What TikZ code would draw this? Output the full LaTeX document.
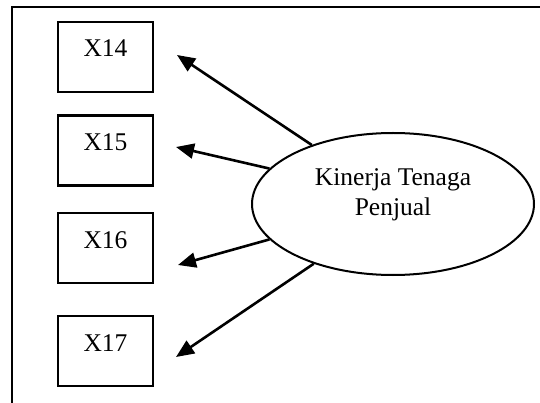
\documentclass[tikz,border=0pt]{standalone}
\usepackage{fontspec}
\setmainfont{Liberation Serif}
\usetikzlibrary{shapes.geometric,arrows.meta,calc}

\tikzset{
  indicator/.style={draw, line width=2.2pt, rectangle, inner xsep=0pt, inner ysep=0pt,
    minimum width=95pt, text height=35pt, text depth=35pt,
    font=\fontsize{25.5}{30}\selectfont},
  construct/.style={draw, line width=2pt, ellipse, inner sep=0pt,
    minimum width=282pt, minimum height=142pt},
  constructlabel/.style={align=center, inner sep=0pt,
    font=\fontsize{25.5}{30}\selectfont},
  loading/.style={line width=2.6pt, -{Triangle[length=18pt,width=15pt]}},
  frame/.style={line width=2.4pt}
}

\begin{document}
\begin{tikzpicture}[x=1pt, y=-1pt]
  \useasboundingbox (0,0) rectangle (540,403);

  % open frame: top and left edges
  \coordinate (frameTR) at (540,7);
  \coordinate (frameTL) at (12,7);
  \coordinate (frameBL) at (12,403);
  \draw[frame] (frameTR) -- (frameTL) -- (frameBL);

  % indicator boxes
  \node[indicator] (x14) at (105.5,57)  {X14};
  \node[indicator] (x15) at (105.5,150.5) {X15};
  \node[indicator] (x16) at (105.5,248) {X16};
  \node[indicator] (x17) at (105.5,351) {X17};

  % latent construct
  \node[construct] (kt) at (393,204) {};
  \node[constructlabel] (ktlabel) at (393,195) {Kinerja Tenaga\\Penjual};

  % arrow tips beside the boxes
  \coordinate (t14) at (177,55);
  \coordinate (t15) at (176,147);
  \coordinate (t16) at (178,265);
  \coordinate (t17) at (176,357);

  % loadings
  \draw[loading] (kt.144.5) -- (t14);
  \draw[loading] (kt.164.5) -- (t15);
  \draw[loading] (kt.196.3) -- (t16);
  \draw[loading] (kt.217.8) -- (t17);
\end{tikzpicture}
\end{document}
